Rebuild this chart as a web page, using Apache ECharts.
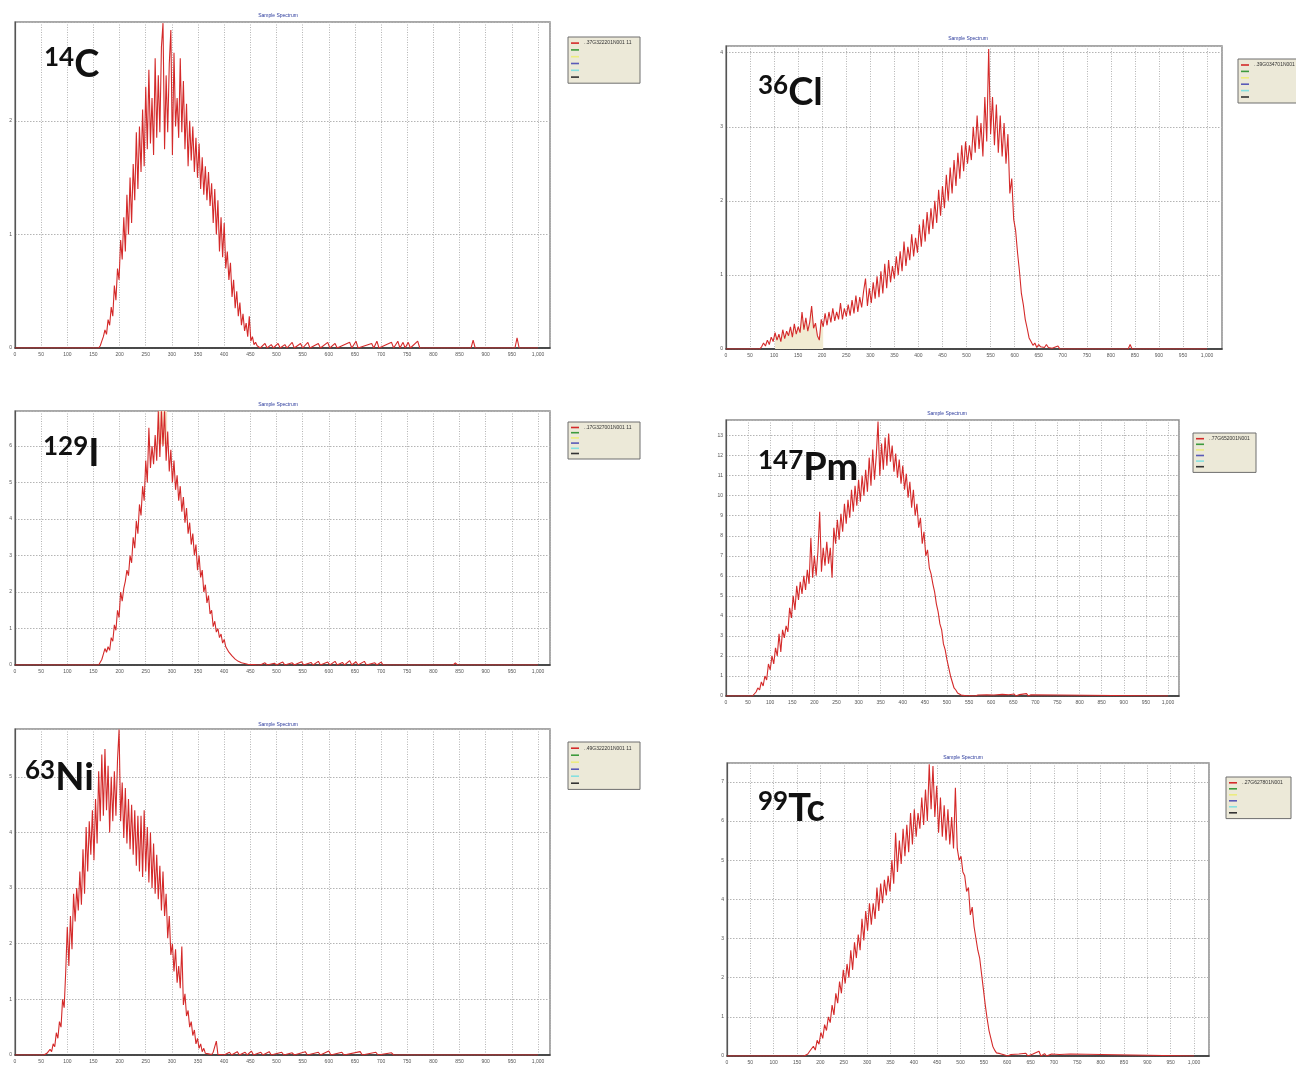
<!DOCTYPE html>
<html>
<head>
<meta charset="utf-8">
<script src="https://cdn.jsdelivr.net/npm/echarts@6/dist/echarts.min.js"></script>
<style>
  html, body { margin: 0; padding: 0; background: #ffffff; }
  #chart { width: 1296px; height: 1065px; }
</style>
</head>
<body>
<div id="chart"></div>
<script>
// ---- Spectrum data: counts (thousands) per channel ----
const chartTitle = 'Sample Spectrum';
const massNumbers = ['14', '36', '129', '147', '63', '99'];
const elements = ['C', 'Cl', 'I', 'Pm', 'Ni', 'Tc'];
const sampleIds = ['..37G322201N001 11', '..39G034701N001 11', '..17G327001N001 11',
                   '..77G652001N001 11', '..49G322201N001 11', '..27G627801N001 11'];
const traceNames = ['', 'green', 'yellow', 'blue', 'cyan', 'black'];

// 14C: main band from channel 160, every 3 channels
const c14Start = 160, c14Step = 3;
const c14Counts = [0, 0.02, 0.06, 0.1, 0.16, 0.12, 0.25, 0.2, 0.36, 0.28, 0.55, 0.42, 0.7, 0.6,
  0.95, 0.78, 1.15, 0.85, 1.35, 1.0, 1.5, 1.1, 1.62, 1.3, 1.9, 1.4, 1.95, 1.55, 2.1, 1.6,
  2.3, 1.75, 2.45, 1.8, 2.2, 1.7, 2.55, 1.85, 2.4, 1.9, 2.65, 2.86, 1.75, 2.4, 1.9, 2.5,
  2.8, 1.7, 2.6, 1.95, 2.2, 1.85, 2.55, 1.9, 2.35, 1.75, 2.15, 1.6, 2.0, 1.65, 1.95, 1.55,
  1.85, 1.5, 1.8, 1.4, 1.68, 1.35, 1.6, 1.3, 1.55, 1.25, 1.45, 1.1, 1.4, 1.0, 1.3, 0.85,
  1.15, 0.8, 1.1, 0.7, 0.85, 0.6, 0.75, 0.45, 0.6, 0.35, 0.5, 0.28, 0.4, 0.2, 0.3, 0.15,
  0.22, 0.1, 0.28, 0.06, 0.1, 0.03, 0.05, 0.02, 0.03, 0];
const c14Tail = [[478, 0.04], [482, 0], [490, 0.03], [494, 0], [503, 0.04], [507, 0], [516, 0.03], [520, 0],
  [530, 0.05], [534, 0], [546, 0.04], [550, 0], [560, 0.05], [564, 0], [580, 0.04], [584, 0],
  [598, 0.05], [602, 0], [612, 0.04], [616, 0], [640, 0.05], [644, 0], [652, 0.06], [656, 0],
  [682, 0.04], [686, 0], [692, 0.06], [696, 0], [720, 0.05], [724, 0], [732, 0.06], [736, 0],
  [742, 0.05], [746, 0], [752, 0.05], [756, 0], [770, 0.06], [774, 0], [872, 0], [876, 0.07], [880, 0],
  [956, 0], [960, 0.09], [964, 0], [1000, 0]];

// 36Cl: main band from channel 70, every 4 channels
const cl36Start = 70, cl36Step = 4;
const cl36Counts = [0, 0.03, 0.08, 0.04, 0.12, 0.06, 0.16, 0.1, 0.22, 0.12, 0.2, 0.1, 0.26, 0.14,
  0.24, 0.18, 0.3, 0.16, 0.34, 0.2, 0.3, 0.22, 0.5, 0.26, 0.42, 0.24, 0.36, 0.58, 0.28, 0.35,
  0.18, 0.12, 0.4, 0.3, 0.48, 0.32, 0.5, 0.36, 0.55, 0.38, 0.5, 0.4, 0.62, 0.4, 0.55, 0.44,
  0.6, 0.45, 0.66, 0.48, 0.72, 0.5, 0.7, 0.56, 0.78, 0.95, 0.58, 0.82, 0.62, 0.9, 0.68, 0.98,
  0.7, 1.05, 0.75, 1.15, 0.82, 1.2, 0.9, 1.12, 0.95, 1.25, 1.0, 1.32, 1.05, 1.45, 1.12, 1.38,
  1.2, 1.55, 1.25, 1.5, 1.3, 1.68, 1.38, 1.75, 1.45, 1.85, 1.55, 1.9, 1.62, 2.0, 1.7, 2.15,
  1.8, 2.2, 1.9, 2.35, 2.0, 2.45, 2.1, 2.55, 2.2, 2.65, 2.3, 2.75, 2.4, 2.8, 2.5, 2.75,
  2.55, 3.0, 2.65, 3.15, 2.7, 3.05, 2.6, 3.4, 2.8, 4.05, 2.9, 3.4, 2.75, 3.3, 2.65, 3.15,
  2.6, 3.05, 2.5, 2.9, 2.1, 2.3, 1.75, 1.6, 1.3, 1.05, 0.75, 0.6, 0.4, 0.28, 0.15, 0.1,
  0.05, 0.08, 0.02, 0.06, 0.03, 0.05, 0.02, 0.06, 0.02, 0.04, 0.01, 0];
const cl36Tail = [[690, 0.04], [694, 0], [836, 0], [840, 0.06], [844, 0], [1000, 0]];
const cl36Roi = [100, 205];

// 129I: main band from channel 160, every 3 channels
const i129Start = 160, i129Step = 3;
const i129Counts = [0, 0.05, 0.15, 0.3, 0.45, 0.35, 0.5, 0.4, 0.75, 0.65, 1.1, 0.95, 1.5, 1.3,
  2.0, 1.75, 2.1, 2.3, 2.6, 2.45, 3.0, 2.8, 3.5, 3.2, 3.95, 3.6, 4.4, 4.1, 4.9, 4.5, 5.6,
  5.0, 6.5, 5.4, 6.0, 5.5, 6.3, 5.6, 6.95, 5.7, 6.95, 6.0, 6.95, 5.6, 6.4, 5.3, 5.9, 5.0,
  5.6, 4.8, 5.2, 4.5, 4.9, 4.2, 4.6, 3.9, 4.3, 3.6, 3.9, 3.3, 3.6, 3.0, 3.3, 2.6, 3.0, 2.4,
  2.6, 2.0, 2.2, 1.7, 1.9, 1.4, 1.5, 1.05, 1.2, 0.9, 1.0, 0.75, 0.85, 0.6, 0.7, 0.5, 0.55,
  0.35, 0.4, 0.25, 0.3, 0.16, 0.2, 0.1, 0.14, 0.06, 0.1, 0.04, 0.06, 0.02, 0.05, 0.01, 0.03,
  0.01, 0.02, 0, 0.01, 0];
const i129Tail = [[478, 0.06], [482, 0], [496, 0.05], [500, 0], [512, 0.08], [516, 0], [530, 0.06], [534, 0],
  [548, 0.09], [552, 0], [566, 0.07], [570, 0], [580, 0.1], [584, 0], [598, 0.08], [602, 0],
  [612, 0.1], [616, 0], [626, 0.07], [630, 0], [640, 0.12], [644, 0], [652, 0.09], [656, 0],
  [668, 0.1], [672, 0], [688, 0.06], [692, 0], [700, 0.08], [704, 0], [838, 0], [842, 0.06], [846, 0], [1000, 0]];
const i129Roi = [274, 291], i129RoiFloor = 6.05;

// 147Pm: main band from channel 60, every 4 channels
const pm147Start = 60, pm147Step = 4;
const pm147Counts = [0, 0.05, 0.2, 0.4, 0.3, 0.7, 0.5, 1.0, 0.8, 1.6, 1.3, 2.0, 1.6, 2.4, 2.0,
  3.1, 2.2, 3.3, 2.9, 3.5, 3.2, 4.4, 3.9, 5.0, 4.3, 5.5, 4.8, 5.7, 5.1, 6.0, 5.3, 6.3, 5.6,
  7.9, 5.9, 7.0, 6.0, 7.2, 9.2, 6.2, 7.4, 6.5, 7.7, 6.6, 7.4, 5.9, 8.4, 7.6, 8.8, 7.8, 9.1,
  8.2, 9.6, 8.6, 9.8, 8.9, 10.3, 9.2, 10.5, 9.5, 10.8, 9.7, 11.0, 10.0, 11.3, 10.2, 11.9,
  10.5, 12.3, 10.8, 12.0, 13.7, 11.0, 12.6, 11.3, 12.9, 11.5, 13.1, 11.7, 12.5, 11.2, 12.1,
  10.9, 11.8, 10.6, 11.5, 10.3, 11.1, 9.9, 10.7, 9.4, 10.3, 9.0, 9.6, 8.4, 8.9, 7.6, 8.2,
  7.0, 7.3, 6.4, 6.1, 5.6, 5.2, 4.6, 4.2, 3.6, 3.3, 2.6, 2.3, 1.8, 1.4, 1.0, 0.7, 0.4, 0.3,
  0.15, 0.1, 0.05, 0.06, 0.02, 0.04, 0.01, 0.03, 0.01, 0.02, 0];
const pm147Tail = [[570, 0.05], [574, 0], [590, 0.06], [594, 0], [606, 0.05], [610, 0], [625, 0.08], [629, 0],
  [640, 0.06], [644, 0], [652, 0.1], [656, 0], [664, 0.07], [668, 0], [680, 0.12], [684, 0],
  [690, 0.06], [694, 0], [1000, 0]];

// 63Ni: main band from channel 55, every 3 channels
const ni63Start = 55, ni63Step = 3;
const ni63Counts = [0, 0.02, 0.03, 0.05, 0.1, 0.06, 0.2, 0.15, 0.4, 0.3, 0.6, 0.5, 1.0, 0.85,
  1.5, 2.3, 1.6, 2.5, 1.9, 2.9, 2.4, 3.0, 2.6, 3.3, 2.7, 3.7, 2.9, 4.1, 3.3, 4.2, 3.6, 4.4,
  3.5, 4.6, 3.8, 5.1, 4.2, 5.4, 4.3, 5.5, 4.4, 5.2, 4.0, 5.0, 4.2, 5.1, 4.3, 5.3, 5.85, 4.2,
  4.9, 3.9, 4.8, 3.8, 4.6, 3.7, 4.5, 3.6, 4.4, 3.4, 4.3, 3.3, 4.3, 3.2, 4.4, 3.3, 4.1, 3.1,
  4.0, 3.0, 3.8, 2.9, 3.6, 2.8, 3.4, 2.6, 3.3, 2.5, 2.9, 2.1, 2.5, 1.8, 2.0, 1.5, 1.9, 1.3,
  1.6, 1.2, 1.95, 0.9, 1.1, 0.7, 0.8, 0.5, 0.6, 0.35, 0.45, 0.2, 0.3, 0.12, 0.2, 0.06, 0.12,
  0.03, 0.05, 0.02, 0.04, 0.01, 0.05, 0.02, 0.25, 0.01, 0.03, 0.01, 0.02, 0, 0];
const ni63Tail = [[410, 0.05], [414, 0], [425, 0.06], [429, 0], [440, 0.05], [444, 0], [452, 0.07], [456, 0],
  [470, 0.05], [474, 0], [486, 0.06], [490, 0], [510, 0.05], [514, 0], [530, 0.04], [534, 0],
  [555, 0.06], [559, 0], [580, 0.05], [584, 0], [600, 0.07], [604, 0], [625, 0.05], [629, 0],
  [660, 0.06], [664, 0], [690, 0.05], [694, 0], [720, 0.04], [724, 0], [1000, 0]];

// 99Tc: main band from channel 165, every 4 channels
const tc99Start = 165, tc99Step = 4;
const tc99Counts = [0, 0.02, 0.05, 0.12, 0.08, 0.25, 0.15, 0.4, 0.3, 0.6, 0.45, 0.8, 0.65, 1.0,
  0.85, 1.3, 1.05, 1.6, 1.35, 1.9, 1.6, 2.2, 1.85, 2.35, 2.0, 2.7, 2.2, 2.9, 2.5, 3.1, 2.7,
  3.5, 2.95, 3.7, 3.2, 3.9, 3.35, 3.9, 3.5, 4.3, 3.7, 4.4, 3.9, 4.5, 4.1, 4.6, 4.2, 5.0, 4.4,
  5.7, 4.7, 5.5, 4.9, 5.8, 5.1, 5.9, 5.2, 6.2, 5.4, 6.3, 5.6, 6.2, 5.8, 6.6, 5.9, 6.8, 6.0,
  7.45, 6.3, 7.4, 6.1, 6.9, 5.7, 6.6, 5.6, 6.4, 5.5, 6.3, 5.4, 6.1, 5.3, 6.85, 5.3, 5.0, 5.1,
  4.7, 4.6, 4.2, 4.3, 3.6, 3.8, 3.3, 3.0, 2.7, 2.5, 2.1, 1.7, 1.3, 0.95, 0.65, 0.45, 0.25,
  0.15, 0.08, 0.05, 0.06, 0.02, 0.03, 0.01, 0];
const tc99Tail = [[608, 0.04], [612, 0], [625, 0.05], [629, 0], [640, 0.07], [644, 0], [655, 0.05], [659, 0],
  [668, 0.12], [672, 0], [680, 0.06], [684, 0], [695, 0.05], [699, 0], [712, 0.04], [716, 0],
  [735, 0.05], [739, 0], [1000, 0]];

// ---- Build [channel, counts] pairs ----
function spectrum(start, step, counts, tail) {
  const pts = [[0, 0]];
  counts.forEach((v, i) => pts.push([start + i * step, v]));
  return pts.concat(tail);
}
const spectra = [
  spectrum(c14Start, c14Step, c14Counts, c14Tail),
  spectrum(cl36Start, cl36Step, cl36Counts, cl36Tail),
  spectrum(i129Start, i129Step, i129Counts, i129Tail),
  spectrum(pm147Start, pm147Step, pm147Counts, pm147Tail),
  spectrum(ni63Start, ni63Step, ni63Counts, ni63Tail),
  spectrum(tc99Start, tc99Step, tc99Counts, tc99Tail)
];

// ---- Panel layout (pixels) ----
const panels = [
  { grid: [15, 22, 535, 326],  xMax: 1023, yMax: 2.87,  title: [278, 13],  tag: [44, 45],   legend: [568, 37],  lw: 53, row: 6.2, gap: 0.6 },
  { grid: [726, 46, 496, 303], xMax: 1031, yMax: 4.09,  title: [968, 36],  tag: [758, 73],  legend: [1238, 59], lw: 53, row: 6.0, gap: 0.4 },
  { grid: [15, 411, 535, 254], xMax: 1023, yMax: 6.96,  title: [278, 402], tag: [43, 434],  legend: [568, 422], lw: 53, row: 5.0, gap: 0.2 },
  { grid: [726, 420, 453, 276], xMax: 1025, yMax: 13.78, title: [947, 411], tag: [758, 448], legend: [1193, 433], lw: 44, row: 5.4, gap: 0.2 },
  { grid: [15, 729, 535, 326], xMax: 1023, yMax: 5.86,  title: [278, 722], tag: [25, 758],  legend: [568, 742], lw: 53, row: 6.4, gap: 0.6 },
  { grid: [727, 763, 482, 294], xMax: 1032, yMax: 7.48,  title: [963, 755], tag: [758, 789], legend: [1226, 777], lw: 46, row: 5.6, gap: 0.4 }
];
const traceColors = ['#d42a2a', '#3d9a3d', '#ecec80', '#5a5ab8', '#86e0e0', '#333333'];

const grids = [], xAxes = [], yAxes = [], series = [], titles = [], legends = [], graphics = [];
const labelFont = '"Liberation Sans", Arial, sans-serif';

panels.forEach((p, k) => {
  grids.push({
    left: p.grid[0], top: p.grid[1], width: p.grid[2], height: p.grid[3],
    show: true, backgroundColor: '#ffffff', borderColor: '#8c8c8c', borderWidth: 1.5
  });
  xAxes.push({
    type: 'value', gridIndex: k, min: 0, max: p.xMax, interval: 50,
    axisLine: { show: true, onZero: false, lineStyle: { color: '#2a2a2a', width: 1.5 } },
    axisTick: { show: false },
    axisLabel: {
      fontSize: 5, color: '#555', margin: 4, fontFamily: labelFont, showMaxLabel: false,
      formatter: v => (v % 50 !== 0 || v > 1000) ? '' : (v >= 1000 ? '1,000' : String(v))
    },
    splitLine: { show: true, lineStyle: { color: '#b4b4b4', type: [1, 1.5], width: 1 } }
  });
  yAxes.push({
    type: 'value', gridIndex: k, min: 0, max: p.yMax, interval: 1,
    axisLine: { show: true, lineStyle: { color: '#555', width: 1.2 } },
    axisTick: { show: false },
    axisLabel: {
      fontSize: 5, color: '#555', margin: 3, fontFamily: labelFont, showMaxLabel: false,
      formatter: v => Number.isInteger(v) ? String(v) : ''
    },
    splitLine: { show: true, lineStyle: { color: '#b4b4b4', type: [1.5, 1.5], width: 1 } }
  });
  titles.push({
    text: chartTitle, left: p.title[0], top: p.title[1], textAlign: 'center', padding: 0,
    textStyle: { fontSize: 5, color: '#2b3a9c', fontWeight: 'normal', fontFamily: labelFont }
  });

  const names = traceNames.map((t, j) => j === 0 ? sampleIds[k] : elements[k] + ' ' + t);
  const main = {
    type: 'line', name: names[0], xAxisIndex: k, yAxisIndex: k,
    data: spectra[k], showSymbol: false, symbol: 'none', color: traceColors[0],
    lineStyle: { color: traceColors[0], width: 1.1 }, z: 5, animation: false
  };
  if (k === 2) {
    main.markArea = {
      silent: true, itemStyle: { color: '#f5e2c6' },
      data: [[{ xAxis: i129Roi[0], yAxis: i129RoiFloor }, { xAxis: i129Roi[1], yAxis: p.yMax }]]
    };
  }
  series.push(main);
  if (k === 1) {
    // shaded region of interest under the low-energy part of the trace
    series.push({
      type: 'line', xAxisIndex: k, yAxisIndex: k, silent: true,
      data: spectra[k].filter(d => d[0] >= cl36Roi[0] && d[0] <= cl36Roi[1]),
      showSymbol: false, symbol: 'none', lineStyle: { width: 0 },
      areaStyle: { color: '#f1ebd2', opacity: 1 }, z: 3, animation: false
    });
  }
  for (let j = 1; j < names.length; j++) {
    series.push({
      type: 'line', name: names[j], xAxisIndex: k, yAxisIndex: k, data: [],
      color: traceColors[j], showSymbol: false, animation: false
    });
  }
  legends.push({
    left: p.legend[0], top: p.legend[1], orient: 'vertical', data: names,
    icon: 'rect', itemWidth: 8, itemHeight: 1.6, itemGap: p.gap, padding: [3, 3, 3, 3],
    backgroundColor: '#ece9d8', borderColor: '#6e6e6e', borderWidth: 1, borderRadius: 0,
    selectedMode: false, inactiveColor: '#ccc',
    formatter: n => sampleIds.includes(n) ? n : ' ',
    textStyle: { fontSize: 5, lineHeight: p.row, color: '#333', fontFamily: labelFont,
                 width: p.lw, overflow: 'truncate', ellipsis: '' }
  });
  graphics.push({
    type: 'text', left: p.tag[0], top: p.tag[1], z: 20,
    style: {
      text: '{s|' + massNumbers[k] + '}{m|' + elements[k] + '}',
      rich: {
        s: { fontSize: 26, fontWeight: 'bold', fontFamily: 'Lato, "Open Sans", sans-serif', fill: '#111', verticalAlign: 'top', lineHeight: 26 },
        m: { fontSize: 38, fontWeight: 'bold', fontFamily: 'Lato, "Open Sans", sans-serif', fill: '#111', lineHeight: 40 }
      }
    }
  });
});

const chart = echarts.init(document.getElementById('chart'), null, { renderer: 'canvas' });
chart.setOption({
  backgroundColor: '#ffffff',
  animation: false,
  title: titles,
  legend: legends,
  grid: grids,
  xAxis: xAxes,
  yAxis: yAxes,
  series: series,
  graphic: graphics
});
</script>
</body>
</html>
